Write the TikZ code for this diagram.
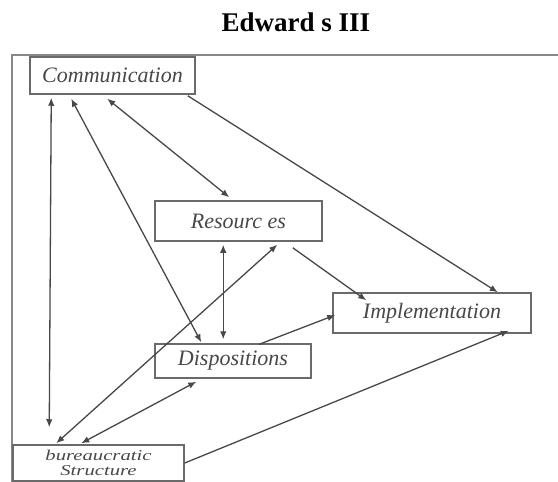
\documentclass[tikz,border=0pt]{standalone}
\usepackage{fontspec}
\setmainfont{Liberation Serif}
\usetikzlibrary{arrows.meta,calc}
\definecolor{ln}{HTML}{484848}
\definecolor{bx}{HTML}{6A6A6A}
\definecolor{tx}{HTML}{484848}
\begin{document}
\begin{tikzpicture}[x=1pt,y=-1pt,
  box/.style={draw=bx,line width=1.5pt,rectangle,inner sep=0pt,text=tx,
    font=\fontsize{22}{22}\selectfont\itshape},
  conn/.style={draw=ln,line width=1.3pt},
  tip/.style={-{Latex[length=8pt,width=6.5pt]}},
  tips/.style={{Latex[length=8pt,width=6.5pt]}-{Latex[length=8pt,width=6.5pt]}}]
\useasboundingbox[fill=white] (0,0) rectangle (558,482);
% frame (top and left edges)
\coordinate (ftr) at (558,55);
\coordinate (ftl) at (12,55);
\coordinate (fbl) at (12,482);
\draw[draw=bx!80,line width=1.5pt] (ftr) -- (ftl) -- (fbl);
% title
\node[font=\fontsize{27}{27}\selectfont\bfseries] (title) at (296,22) {Edward s III};
% boxes
\node[box,minimum width=165pt,minimum height=37pt] (comm) at (112.5,75.5) {Communication};
\node[box,minimum width=167pt,minimum height=40pt] (res) at (238.5,221) {Resourc es};
\node[box,minimum width=198pt,minimum height=40pt] (impl) at (432,313) {Implementation};
\node[box,minimum width=156pt,minimum height=34pt] (disp) at (233,361) {Dispositions};
\node[box,minimum width=171pt,minimum height=36pt,align=center,
  font=\fontsize{15}{15}\selectfont\itshape] (bur) at (98.5,463)
  {\scalebox{1.38}[1]{bureaucratic}\\\scalebox{1.38}[1]{Structure}};
% connectors
\draw[conn,tips] ($(comm.south west)+(22,3)$) -- ($(bur.north west)+(37,-17)$);
\draw[conn,tips] ($(comm.south west)+(42,4)$) -- ($(disp.north west)+(47,-1)$);
\draw[conn,tips] ($(comm.south west)+(78,4)$) -- ($(res.north west)+(75,-3)$);
\draw[conn,tip]  ($(comm.south east)+(-8,1)$) -- ($(impl.north east)+(-34,0)$);
\draw[conn,tips] ($(res.south west)+(69,3)$) -- ($(disp.north west)+(69,-4)$);
\draw[conn,tips] ($(bur.north west)+(44,-1)$) -- ($(res.south west)+(123,3)$);
\draw[conn,tips] ($(bur.north west)+(69,-1)$) -- ($(disp.south west)+(42,3)$);
\draw[conn,tip]  (bur.east) -- ($(impl.south east)+(-23,-3)$);
\draw[conn,tip]  ($(res.south east)+(-30,6)$) -- ($(impl.north west)+(34,8)$);
\draw[conn,tip]  ($(disp.north west)+(105,1)$) -- ($(impl.west)+(3,2)$);
\end{tikzpicture}
\end{document}
